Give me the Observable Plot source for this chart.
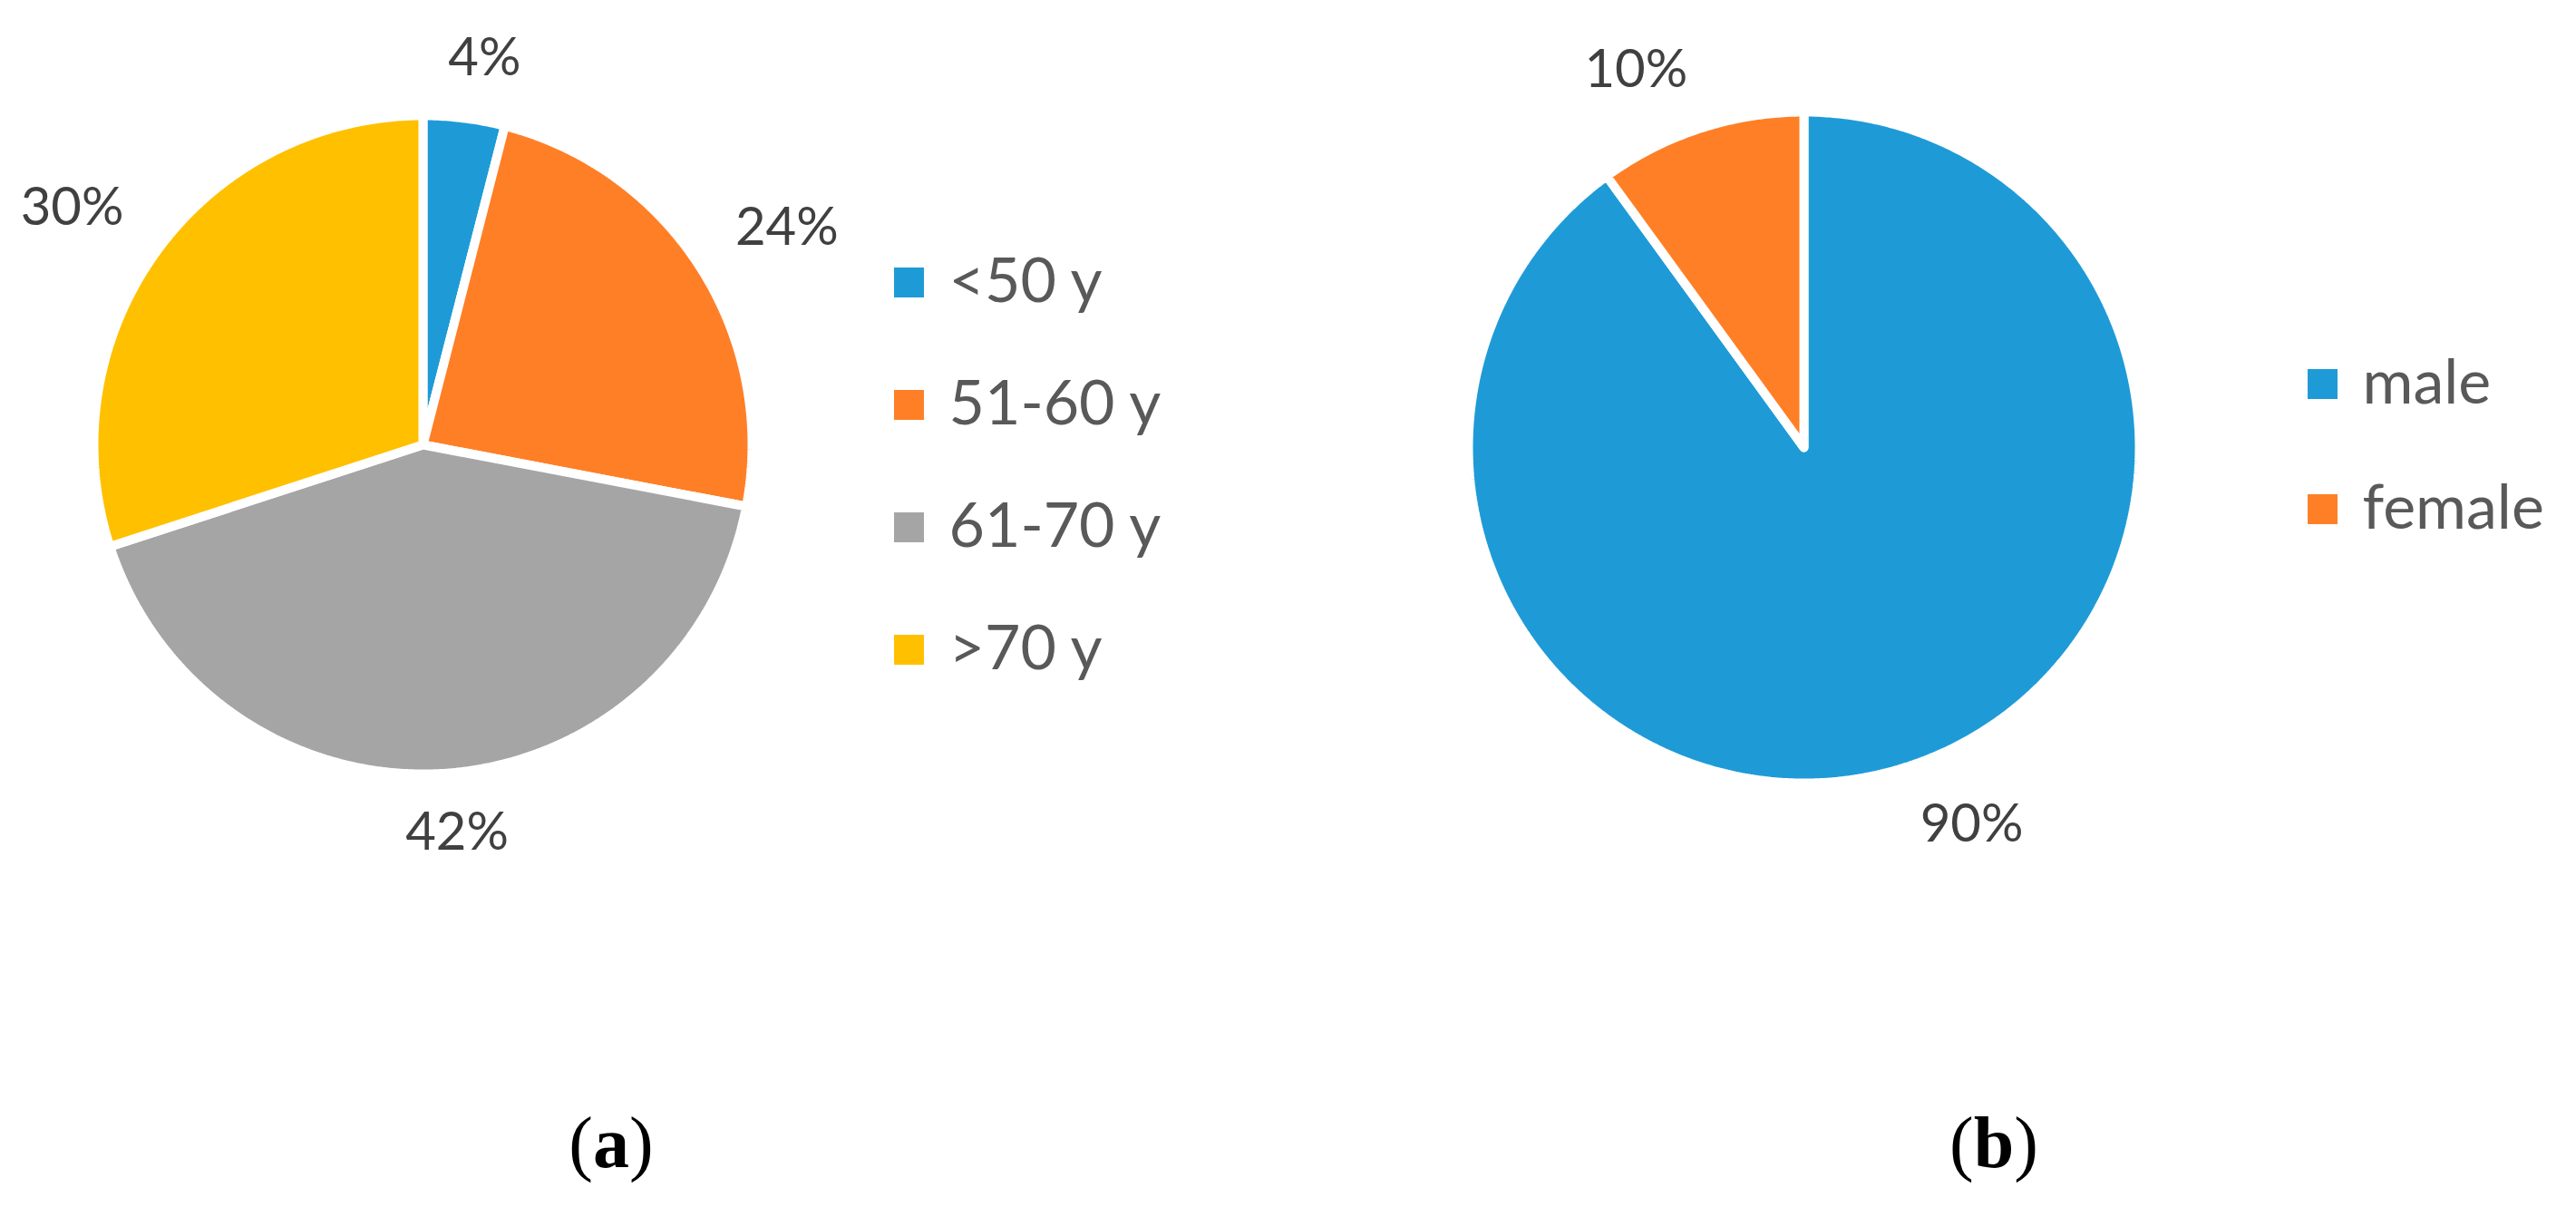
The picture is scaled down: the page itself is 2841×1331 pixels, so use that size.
<!DOCTYPE html>
<html>
<head>
<meta charset="utf-8">
<script src="https://cdn.jsdelivr.net/npm/d3@7"></script>
<script src="https://cdn.jsdelivr.net/npm/@observablehq/plot@0.6"></script>
<style>
  html, body { margin: 0; padding: 0; background: #fff; }
  #page { position: relative; width: 2841px; height: 1331px; overflow: hidden; background: #fff; }
  .panel { position: absolute; top: 0; }
  .panel svg { overflow: visible; }
  .cap { position: absolute; font-family: "Liberation Serif", "Times New Roman", serif; font-size: 80px;
         line-height: 1; color: #000; transform: translateX(-50%); white-space: nowrap; }
</style>
</head>
<body>
<div id="page"></div>
<script>
// ---- data ----
const ageCategories = ["<50 y", "51-60 y", "61-70 y", ">70 y"];
const ageValues = [4, 24, 42, 30];
const ageColors = ["#1E9BD7", "#FF7F27", "#A5A5A5", "#FFC000"];

const sexCategories = ["male", "female"];
const sexValues = [90, 10];
const sexColors = ["#1E9BD7", "#FF7F27"];

const panelCaptions = ["a", "b"];

// ---- helpers ----
const labelFont = 58, legendFont = 68;
const ctx = document.createElement("canvas").getContext("2d");
function textWidth(s, fs) { ctx.font = `${fs}px Lato`; return ctx.measureText(s).width; }
const clamp = (v) => Math.max(-1, Math.min(1, v));

function pie(cfg) {
  const { cats, vals, colors, width, height, cx, cy, rv, legendX, legendY0, legendStep } = cfg;
  const sw = 10;
  const r = rv + sw / 2;
  const arcs = d3.pie().sort(null).value(d => d)(vals);

  // polygon outline of each slice, in pixel units around the centre (y up)
  const pts = [];
  arcs.forEach((a, i) => {
    const k = cats[i];
    pts.push({ k, x: 0, y: 0 });
    const n = Math.max(2, Math.ceil((a.endAngle - a.startAngle) / (Math.PI / 360)));
    for (let j = 0; j <= n; j++) {
      const t = a.startAngle + (a.endAngle - a.startAngle) * j / n;
      pts.push({ k, x: r * Math.sin(t), y: r * Math.cos(t) });
    }
    pts.push({ k, x: 0, y: 0 });
  });

  // outside-end labels
  const gap = 50;
  const labels = arcs.map((a, i) => {
    const m = (a.startAngle + a.endAngle) / 2;
    const s = Math.sin(m), c = Math.cos(m);
    const txt = `${vals[i]}%`;
    const hw = textWidth(txt, labelFont) / 2, hh = 0.72 * labelFont / 2;
    return {
      txt,
      x: (rv + gap) * s + hw * clamp(s / 0.3),
      y: (rv + gap) * c + hh * clamp(c / 0.3)
    };
  });

  const legend = cats.map((k, i) => ({ k, x: legendX, y: legendY0 - i * legendStep }));

  return Plot.plot({
    width, height,
    margin: 0,
    x: { domain: [-cx, width - cx], axis: null },
    y: { domain: [-(height - cy), cy], axis: null },
    color: { type: "ordinal", domain: cats, range: colors },
    style: { fontFamily: "Lato, sans-serif", background: "transparent" },
    marks: [
      Plot.line(pts, { x: "x", y: "y", z: "k", fill: "k", stroke: "white", strokeWidth: sw, strokeLinejoin: "miter", curve: "linear" }),
      Plot.text(labels, { x: "x", y: "y", text: "txt", fontSize: labelFont, fill: "#404040", textAnchor: "middle", lineAnchor: "middle" }),
      Plot.dot(legend, { x: "x", y: "y", fill: "k", symbol: "square", r: 18.6, stroke: "none" }),
      Plot.text(legend, { x: d => d.x + 44, y: "y", text: "k", fontSize: legendFont, fill: "#595959", textAnchor: "start", lineAnchor: "middle" })
    ]
  });
}

const page = document.getElementById("page");

const A = pie({
  cats: ageCategories, vals: ageValues, colors: ageColors,
  width: 1400, height: 1000, cx: 466, cy: 490, rv: 358,
  legendX: 536, legendY0: 490 - 311, legendStep: 135
});
const divA = document.createElement("div"); divA.className = "panel"; divA.style.left = "0px";
divA.appendChild(A); page.appendChild(divA);

const B = pie({
  cats: sexCategories, vals: sexValues, colors: sexColors,
  width: 1341, height: 1000, cx: 489, cy: 493, rv: 365,
  legendX: 2561 - 1500 - 489, legendY0: 493 - 423, legendStep: 138
});
const divB = document.createElement("div"); divB.className = "panel"; divB.style.left = "1500px";
divB.appendChild(B); page.appendChild(divB);

// captions (a) (b)
[674, 2199].forEach((x, i) => {
  const d = document.createElement("div");
  d.className = "cap";
  d.style.left = x + "px";
  d.style.top = "1220px";
  d.innerHTML = `(<b>${panelCaptions[i]}</b>)`;
  page.appendChild(d);
});
</script>
</body>
</html>
